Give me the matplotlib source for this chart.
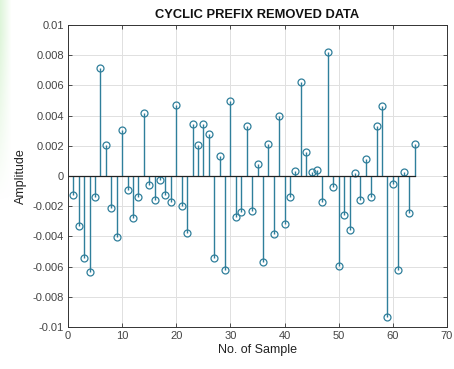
import numpy as np
import matplotlib
matplotlib.use("Agg")
import matplotlib.pyplot as plt

samples = list(range(1, 65))
amplitude = [
    -0.00127, -0.00331, -0.00540, -0.00638, -0.00136, 0.00713, 0.00207, -0.00211,
    -0.00402, 0.00307, -0.00093, -0.00276, -0.00136, 0.00416, -0.00058, -0.00160,
    -0.00029, -0.00129, -0.00169, 0.00469, -0.00200, -0.00378, 0.00344, 0.00204,
    0.00342, 0.00280, -0.00542, 0.00133, -0.00620, 0.00496, -0.00273, -0.00236,
    0.00333, -0.00229, 0.00082, -0.00569, 0.00209, -0.00382, 0.00400, -0.00320,
    -0.00140, 0.00036, 0.00622, 0.00156, 0.00029, 0.00042, -0.00169, 0.00824,
    -0.00073, -0.00598, -0.00260, -0.00360, 0.00020, -0.00156, 0.00111, -0.00142,
    0.00331, 0.00462, -0.00933, -0.00051, -0.00620, 0.00029, -0.00244, 0.00211,
]
x_ticks = list(range(0, 71, 10))
y_ticks = [-0.01, -0.008, -0.006, -0.004, -0.002, 0, 0.002, 0.004, 0.006, 0.008, 0.01]
y_labels = ["-0.01", "-0.008", "-0.006", "-0.004", "-0.002", "0",
            "0.002", "0.004", "0.006", "0.008", "0.01"]

plt.rcParams["font.family"] = ["Liberation Sans", "DejaVu Sans"]

W, H = 454, 369
fig = plt.figure(figsize=(W / 100, H / 100), dpi=100)

# soft green band along the top-left edge
band = np.zeros((200, 12, 4))
band[..., 0] = 0.86
band[..., 1] = 0.96
band[..., 2] = 0.84
alpha_x = np.linspace(0.9, 0.0, 12)[None, :]
alpha_y = np.clip(np.linspace(1.2, 0.0, 200), 0, 1)[:, None]
band[..., 3] = alpha_x * alpha_y
bax = fig.add_axes([0, 1 - 200 / H, 12 / W, 200 / H])
bax.imshow(band, aspect="auto")
bax.axis("off")

left, right, top, bottom = 68, 447, 25, 327
ax = fig.add_axes([left / W, 1 - bottom / H, (right - left) / W, (bottom - top) / H])

stem_color = "#2f7f9b"
markerline, stemlines, baseline = ax.stem(samples, amplitude, basefmt="k-")
plt.setp(stemlines, color=stem_color, linewidth=1.0)
plt.setp(markerline, color=stem_color, marker="o", markersize=5,
         markerfacecolor="none", markeredgewidth=0.9)
plt.setp(baseline, color="#222222", linewidth=0.9)
baseline.set_xdata([x_ticks[0], samples[-1]])

ax.set_xlim(0, 70)
ax.set_ylim(-0.01, 0.01)
ax.set_xticks(x_ticks)
ax.set_yticks(y_ticks)
ax.set_yticklabels(y_labels)
ax.grid(True, color="#e0e0e0", linewidth=0.7)
ax.set_axisbelow(True)
ax.tick_params(direction="in", length=3, width=0.6, top=True, right=True,
               labelsize=8, colors="#333333", labelcolor="#444444", pad=3)
for s in ax.spines.values():
    s.set_color("#333333")
    s.set_linewidth(0.7)

ax.set_title("CYCLIC PREFIX REMOVED DATA", fontsize=9.3, fontweight="bold",
             color="#111111", pad=5)
ax.set_xlabel("No. of Sample", fontsize=9, color="#222222", labelpad=2)
ax.set_ylabel("Amplitude", fontsize=9, color="#222222", labelpad=4)

fig.savefig("out.png", dpi=100)
